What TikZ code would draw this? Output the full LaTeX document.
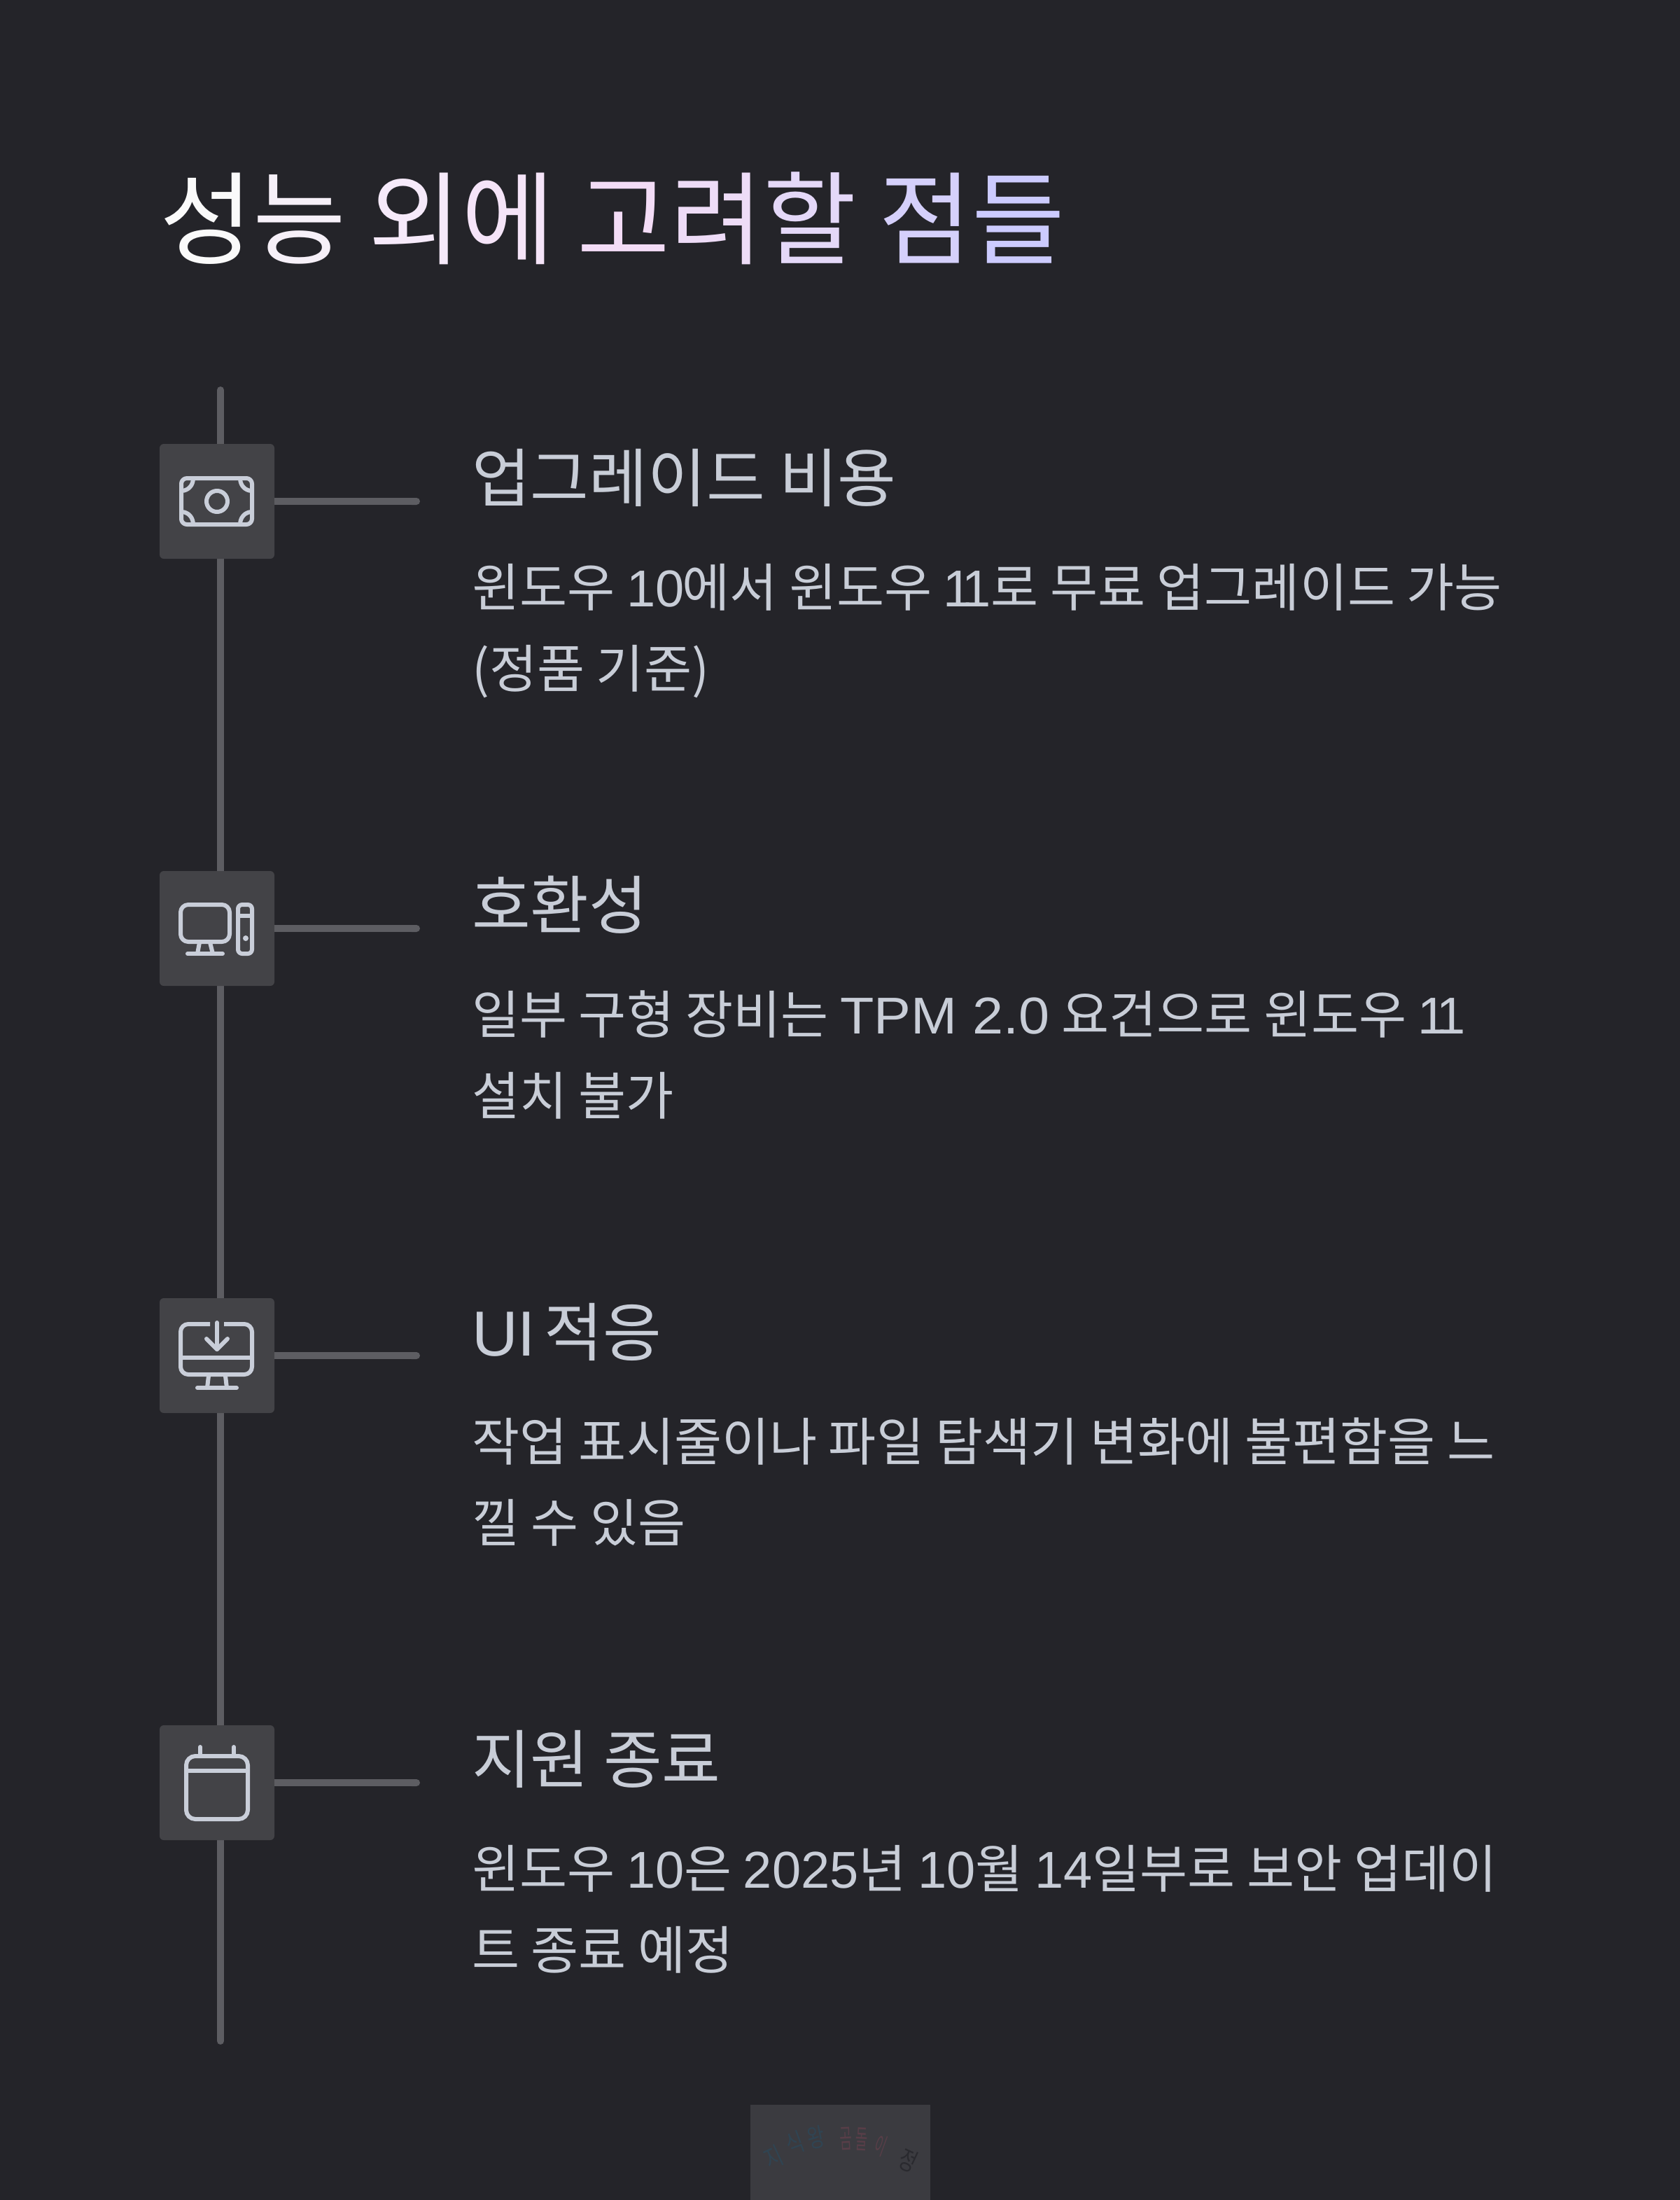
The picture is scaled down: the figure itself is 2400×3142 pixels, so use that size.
\documentclass[tikz,border=0pt]{standalone}
\usepackage{xcolor}
\usepackage{fontspec}
\setmainfont{Noto Sans CJK KR}
\newfontfamily\latinfont{Liberation Sans}
\newfontfamily\widelatin[FakeStretch=1.07]{Liberation Sans}
\newfontfamily\markwide[FakeStretch=.75]{Noto Sans CJK KR}
\newfontfamily\marknarrow[FakeStretch=.5]{Noto Sans CJK KR}
\usepackage{tikz}
\usetikzlibrary{arrows.meta}
\definecolor{bgdark}{RGB}{36, 36, 41}
\definecolor{boxgray}{RGB}{67, 67, 71}
\definecolor{linegray}{RGB}{93, 93, 98}
\definecolor{icongray}{RGB}{201, 206, 217}
\definecolor{textgray}{RGB}{200, 205, 215}
\definecolor{markbox}{RGB}{59, 59, 64}
\definecolor{markblue}{RGB}{48, 68, 82}
\definecolor{markred}{RGB}{88, 62, 72}
\definecolor{markdark}{RGB}{42, 42, 47}
\newcommand{\lat}[1]{{\latinfont #1}}
\newcommand{\oneone}{{\latinfont 1\kern-.2em 1}}
\tikzset{
    iconbox/.style={fill=boxgray, rounded corners=6pt, minimum size=164pt, inner sep=0pt},
    rail/.style={linegray, line width=10pt, line cap=round},
    branch/.style={linegray, line width=10pt, -{Round Cap[]}},
    icon/.style={icongray, line width=6pt, line cap=round, line join=round},
    headtext/.style={anchor=base west, inner sep=0pt, text=textgray, font=\fontsize{91}{116}\selectfont},
    bodytext/.style={anchor=base west, inner sep=0pt, text=textgray, align=left, font=\fontsize{74}{116}\selectfont},
    marktext/.style={inner sep=0pt}
}
\begin{document}
\begin{tikzpicture}[x=1pt, y=-1pt]
    \useasboundingbox (0,0) rectangle (2400,3142);
    \fill[bgdark] (0,0) rectangle (2400,3142);

    % Title
    \node[anchor=base west, inner sep=0pt, font=\fontsize{144.5}{145}\selectfont] (title) at (228,366) {\textcolor[RGB]{250,250,250}{성}\textcolor[RGB]{246,240,248}{능} \textcolor[RGB]{246,234,250}{외}\textcolor[RGB]{245,228,248}{에} \textcolor[RGB]{243,220,246}{고}\textcolor[RGB]{238,220,247}{려}\textcolor[RGB]{228,216,248}{할} \textcolor[RGB]{213,208,251}{점}\textcolor[RGB]{204,203,254}{들}};

    % Timeline ends
    \coordinate (railtop) at (315,557);
    \coordinate (railend) at (315,2915);
    \draw[rail] (railtop) -- (railend);

    % Icon boxes
    \node[iconbox] (money) at (310,716) {};
    \node[iconbox] (computer) at (310,1326) {};
    \node[iconbox] (monitor) at (310,1936) {};
    \node[iconbox] (calendar) at (310,2546) {};

    % Connecting lines
    \coordinate (moneytip) at (600,716);
    \coordinate (computertip) at (600,1326);
    \coordinate (monitortip) at (600,1936);
    \coordinate (calendartip) at (600,2546);
    \draw[branch] (money.east) -- (moneytip);
    \draw[branch] (computer.east) -- (computertip);
    \draw[branch] (monitor.east) -- (monitortip);
    \draw[branch] (calendar.east) -- (calendartip);

    % Icon drawings
    \begin{scope}[shift={(money.center)}]
        \draw[icon, rounded corners=8pt] (-51,-33) rectangle (50,33);
        \draw[icon] (0,0) circle (15);
        \draw[icon] (-51,-15) .. controls (-41,-15) and (-34,-23) .. (-34,-33);
        \draw[icon] (50,-15) .. controls (40,-15) and (33,-23) .. (33,-33);
        \draw[icon] (-51,15) .. controls (-41,15) and (-34,23) .. (-34,33);
        \draw[icon] (50,15) .. controls (40,15) and (33,23) .. (33,33);
    \end{scope}
    \begin{scope}[shift={(computer.center)}]
        \draw[icon, rounded corners=11pt] (-52,-34) rectangle (18,19);
        \draw[icon] (-25,20) -- (-28,36);
        \draw[icon] (-10,20) -- (-6,36);
        \draw[icon] (-42,36) -- (8,36);
        \draw[icon, rounded corners=6pt] (30,-34) rectangle (50,36);
        \draw[icon] (30,-18) -- (50,-18);
        \fill[icongray] (41,14) circle (4);
    \end{scope}
    \begin{scope}[shift={(monitor.center)}]
        \draw[icon, line cap=butt, rounded corners=11pt] (-10,-45) -- (-52,-45) -- (-52,27) -- (50,27) -- (50,-45) -- (10,-45);
        \draw[icon] (-52,3) -- (50,3);
        \draw[icon] (0,-47) -- (0,-9);
        \draw[icon] (-15,-24) -- (0,-9) -- (15,-24);
        \draw[icon] (-12,29) -- (-14,46);
        \draw[icon] (12,29) -- (14,46);
        \draw[icon] (-28,46) -- (28,46);
    \end{scope}
    \begin{scope}[shift={(calendar.center)}]
        \draw[icon, rounded corners=13pt] (-44,-38) rectangle (44,52);
        \draw[icon] (-44,-17) -- (44,-17);
        \draw[icon] (-24,-51) -- (-24,-38);
        \draw[icon] (24,-51) -- (24,-38);
    \end{scope}

    % Item texts
    \node[headtext] (costhead) at (674,716) {업그레이드 비용};
    \node[bodytext] (costbody) at (674,982) {윈도우 \lat{10}\kern-3pt 에서 윈도우 \oneone 로 무료 업그레이드 가능\\(정품 기준)};
    \node[headtext] (comphead) at (674,1326) {호환성};
    \node[bodytext] (compbody) at (674,1592) {일부 구형 장비는 {\widelatin TPM 2.0} 요건으로 윈도우 \oneone\\설치 불가};
    \node[headtext] (uihead) at (674,1936) {\lat{UI}\kern-8pt{} 적응};
    \node[bodytext] (uibody) at (674,2202) {작업 표시줄이나 파일 탐색기 변화에 불편함을 느\\낄 수 있음};
    \node[headtext] (endhead) at (674,2546) {지원 종료};
    \node[bodytext] (endbody) at (674,2812) {윈도우 \lat{10}은 \lat{2025}년 \lat{10}월 \lat{14}일부로 보안 업데이\\트 종료 예정};

    % Stamp at the bottom
    \fill[markbox] (1072,3006) rectangle (1329,3142);
    \node[marktext, text=markblue, rotate=25, font=\fontsize{36}{36}\markwide] (markji) at (1105,3081) {지};
    \node[marktext, text=markblue, rotate=20, font=\fontsize{36}{36}\markwide] (marksik) at (1136,3061) {식};
    \node[marktext, text=markblue, rotate=12, font=\fontsize{36}{36}\markwide] (markwang) at (1166,3053) {왕};
    \node[marktext, text=markred, rotate=3, font=\fontsize{38}{38}\marknarrow] (markgom) at (1208,3054) {곰};
    \node[marktext, text=markred, rotate=-3, font=\fontsize{38}{38}\marknarrow] (markdol) at (1231,3055) {돌};
    \node[marktext, text=markred, rotate=-20, font=\fontsize{34}{34}\marknarrow] (marki) at (1258,3064) {이};
    \node[marktext, text=markdark, rotate=-25, font=\fontsize{36}{36}\markwide] (markjeong) at (1297,3085) {정};
\end{tikzpicture}
\end{document}
